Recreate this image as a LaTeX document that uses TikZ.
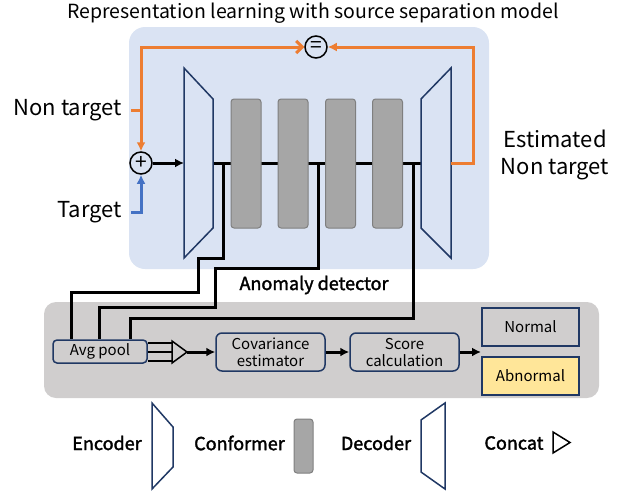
\documentclass[tikz,border=0pt]{standalone}
\usepackage{fontspec}
\setmainfont{Noto Sans CJK SC}
\newfontfamily\semibf[FakeBold=1.8]{Noto Sans CJK SC}
\usetikzlibrary{arrows,arrows.meta,positioning}

\definecolor{sepblue}{HTML}{DAE3F3}
\definecolor{detgray}{HTML}{D0CECE}
\definecolor{lossorange}{HTML}{ED7D31}
\definecolor{tgtblue}{HTML}{4472C4}
\definecolor{navy}{HTML}{203864}
\definecolor{blockgray}{HTML}{A6A6A6}
\definecolor{blockedge}{HTML}{7F7F7F}
\definecolor{abnyellow}{HTML}{FFE699}

\tikzset{
  opcircle/.style={draw,circle,line width=1.5pt,minimum size=22pt,inner sep=0pt,font=\fontsize{21}{21}\selectfont},
  sidetext/.style={inner xsep=9pt,inner ysep=0pt,font=\fontsize{22}{27}\selectfont},
  shapeline/.style={draw=navy,line width=1.5pt,line join=miter},
  confblock/.style={draw=blockedge,fill=blockgray,line width=1pt,rounded corners=3pt,minimum width=30pt,minimum height=129pt,inner sep=0pt},
  netline/.style={line width=3pt},
  tapline/.style={line width=3pt,line join=miter},
  lossline/.style={draw=lossorange,line width=3pt},
  tgtline/.style={draw=tgtblue,line width=3pt},
  flowtip/.style={-{Latex[length=9pt,width=9pt]}},
  opentip/.style={-{Straight Barb[length=6pt,width=12pt]}},
  detbox/.style={draw=navy,line width=1.5pt,inner sep=0pt,align=center,font=\fontsize{15}{17}\selectfont},
  procbox/.style={rounded corners=6pt,minimum width=109pt,minimum height=38pt},
  catline/.style={draw=black,line width=1.5pt,line join=miter},
  legtext/.style={inner sep=0pt,font=\semibf\fontsize{18}{18}\selectfont}
}

\begin{document}
\begin{tikzpicture}[x=1pt,y=-1pt]
  \useasboundingbox (0,0) rectangle (626,490);

  % panels
  \fill[sepblue,rounded corners=16pt] (129,27) rectangle (489,269);
  \fill[detgray,rounded corners=12pt] (44,302) rectangle (599,398);

  \node[font=\fontsize{19.5}{19.5}\selectfont] (title) at (313,13) {Representation learning with source separation model};

  % separation model
  \coordinate (encin) at (184,163);
  \coordinate (encout) at (213,163);
  \coordinate (decin) at (421,163);
  \coordinate (decout) at (451,163);
  \coordinate (tap1) at (223,163);
  \coordinate (tap2) at (318,163);
  \coordinate (tap3) at (413,163);

  \draw[netline] (encout) -- (decin);
  \draw[shapeline] (184,68) -- (213,99) -- (213,228) -- (184,258) -- cycle;
  \draw[shapeline] (451,68) -- (421,99) -- (421,228) -- (451,258) -- cycle;
  \foreach \x/\n in {246/1,293/2,340.5/3,387.5/4}
    \node[confblock] (conf\n) at (\x,163.5) {};

  \node[opcircle] (plus) at (141,163) {+};
  \node[opcircle] (eq) at (316,47) {=};

  \node[sidetext,anchor=east] (nontgt) at (131,110) {Non target};
  \node[sidetext,anchor=east] (tgt) at (131,212) {Target};
  \node[sidetext,align=center] (est) at (555,155) {Estimated\\Non target};

  \coordinate (ntsplit) at (141,110);
  \coordinate (estturn) at (473,163);
  \draw[lossline] (nontgt.east) -- (ntsplit);
  \draw[lossline,opentip] (ntsplit) |- (eq.west);
  \draw[lossline,flowtip] (ntsplit) -- (plus.north);
  \draw[tgtline,flowtip] (tgt.east) -| (plus.south);
  \draw[netline,flowtip] (plus.east) -- (encin);
  \draw[lossline,flowtip] (decout) -- (estturn) |- (eq.east);

  % anomaly detector
  \node[legtext] (adlabel) at (314,285) {Anomaly detector};
  \node[detbox,minimum width=94pt,minimum height=23pt,rounded corners=4pt] (avgpool) at (100,351.5) {Avg pool};

  \draw[tapline] (tap1) |- (198,258) |- (71,292) -- (71,0 |- avgpool.north);
  \draw[tapline] (tap2) |- (215,268) |- (99,307) -- (99,0 |- avgpool.north);
  \draw[tapline] (tap3) |- (130,318) -- (130,0 |- avgpool.north);

  \foreach \y in {343,352,361}
    \draw[line width=1.8pt] (avgpool.east |- 0,\y) -- (172,\y);
  \draw[catline] (172,341) -- (187,352) -- (172,363) -- cycle;
  \coordinate (catout) at (187,352);

  \node[detbox,procbox] (cov) at (270.5,352) {Covariance\\estimator};
  \node[detbox,procbox] (score) at (404.5,352) {Score\\calculation};
  \coordinate (verdict) at (481,352);
  \draw[netline,flowtip] (catout) -- (cov.west);
  \draw[netline,flowtip] (cov.east) -- (score.west);
  \draw[netline,flowtip] (score.east) -- (verdict);

  \node[detbox,minimum width=97pt,minimum height=38pt] (normal) at (530.5,327) {Normal};
  \node[detbox,fill=abnyellow,minimum width=97pt,minimum height=38pt] (abnormal) at (530.5,376) {Abnormal};

  % legend
  \node[legtext] (encleg) at (107,443) {Encoder};
  \draw[shapeline] (152,403) -- (173,427) -- (173,467) -- (152,489) -- cycle;
  \node[legtext] (confleg) at (239.5,443) {Conformer};
  \node[confblock,minimum width=19pt,minimum height=54pt] (confkey) at (303.5,446) {};
  \node[legtext] (decleg) at (376,443) {Decoder};
  \draw[shapeline] (445,403) -- (421,420) -- (421,472) -- (445,489) -- cycle;
  \node[legtext] (catleg) at (514,443) {Concat};
  \draw[catline] (553,432) -- (570,442.5) -- (553,453) -- cycle;
\end{tikzpicture}
\end{document}
